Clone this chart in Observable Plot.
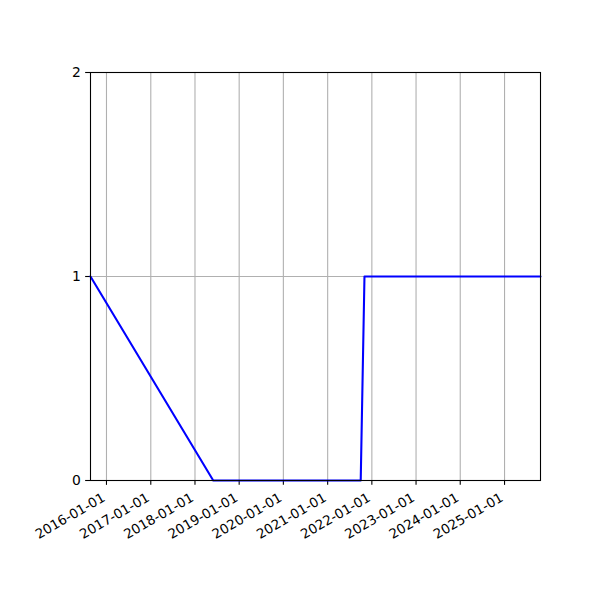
<!DOCTYPE html>
<html>
<head>
<meta charset="utf-8">
<script src="https://cdn.jsdelivr.net/npm/d3@7"></script>
<script src="https://cdn.jsdelivr.net/npm/@observablehq/plot@0.6"></script>
<style>
  html, body { margin: 0; padding: 0; background: #fff; }
</style>
</head>
<body>
<div id="chart"></div>
<script>
// Data
const dates = ["2015-08-22", "2018-06-01", "2021-10-01", "2021-11-01", "2025-10-25"];
const values = [1, 0, 0, 1, 1];
const xTickLabels = ["2016-01-01", "2017-01-01", "2018-01-01", "2019-01-01", "2020-01-01",
                     "2021-01-01", "2022-01-01", "2023-01-01", "2024-01-01", "2025-01-01"];
const yTicks = [0, 1, 2];

const parse = d3.utcParse("%Y-%m-%d");
const data = dates.map((d, i) => ({date: parse(d), value: values[i]}));
const xTicks = xTickLabels.map(s => ({date: parse(s), label: s}));

const chart = Plot.plot({
  width: 600,
  height: 600,
  marginLeft: 90,
  marginRight: 60,
  marginTop: 72,
  marginBottom: 120,
  style: {fontFamily: "DejaVu Sans", fontSize: "13.9px", background: "#fff", color: "black"},
  x: {type: "utc", domain: [parse(dates[0]), parse(dates[dates.length - 1])]},
  y: {domain: [0, 2]},
  marks: [
    Plot.ruleX(xTicks, {x: "date", stroke: "#b0b0b0", strokeWidth: 1.1, strokeOpacity: 1}),
    Plot.ruleY(yTicks, {stroke: "#b0b0b0", strokeWidth: 1.1, strokeOpacity: 1}),
    Plot.axisX({ticks: xTicks.map(d => d.date), tickFormat: () => "", tickSize: 4.86, strokeWidth: 1.1, label: null}),
    Plot.text(xTicks, {x: "date", text: "label", frameAnchor: "bottom", rotate: -30, textAnchor: "end",
      lineAnchor: "middle", dx: -2.5, dy: 16, fill: "black", fontSize: 13.4}),
    Plot.axisY({ticks: yTicks, tickFormat: d3.format("d"), tickSize: 4.86, tickPadding: 4.86, strokeWidth: 1.1, label: null, fontSize: 13.9}),
    Plot.line(data, {x: "date", y: "value", stroke: "#0000ff", strokeWidth: 2.08}),
    Plot.frame({stroke: "black", strokeWidth: 1.1})
  ]
});
document.getElementById("chart").appendChild(chart);
</script>
</body>
</html>
